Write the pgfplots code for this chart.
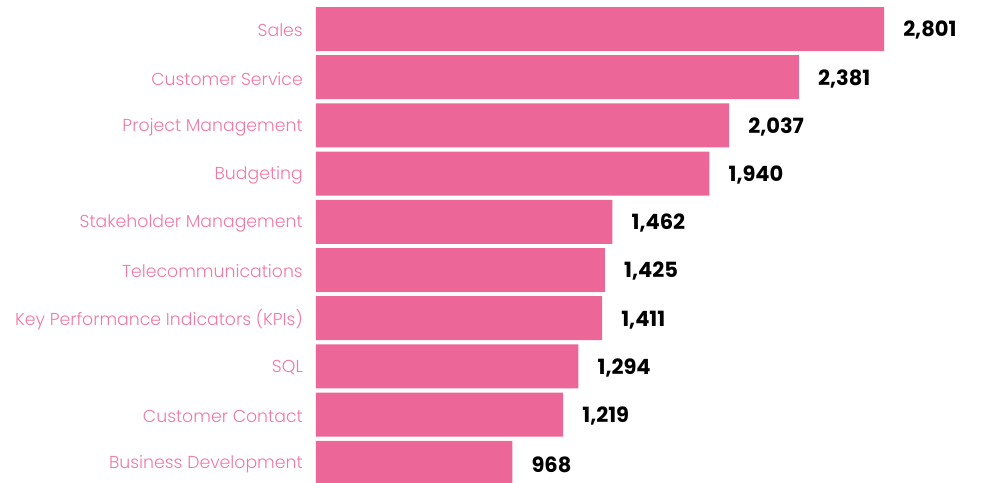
\documentclass[border=0pt]{standalone}
\usepackage{fontspec}
\setmainfont{Poppins}[UprightFont=* Light, BoldFont=* Bold]
\usepackage{pgfplots}
\pgfplotsset{compat=1.18}
\definecolor{barpink}{HTML}{EC6698}
\definecolor{labpink}{HTML}{F07AA6}
\begin{document}
\begin{tikzpicture}
\begin{axis}[
  scale only axis,
  width=666pt, height=482pt,
  xmin=0, xmax=3284,
  ymin=-0.398, ymax=9.602,
  xbar, bar width=44pt,
  axis line style={draw=none},
  xtick=\empty,
  ytick={0,...,9},
  yticklabels={Business Development,Customer Contact,SQL,Key Performance Indicators (KPIs),Telecommunications,Stakeholder Management,Budgeting,Project Management,Customer Service,Sales},
  major tick length=0pt,
  ytick style={draw=none},
  yticklabel style={font=\fontsize{17.3}{20}\selectfont, text=labpink, inner sep=0pt, xshift=-13pt, yshift=-1.5pt},
  nodes near coords,
  nodes near coords style={font=\fontsize{21}{24}\selectfont\bfseries, text=black, anchor=west, inner sep=0pt, xshift=19pt, yshift=-1.5pt},
  /pgf/number format/.cd, 1000 sep={,}, assume math mode=true,
]
\addplot[fill=barpink, draw=none] coordinates {
  (968,0) (1219,1) (1294,2) (1411,3) (1425,4) (1462,5) (1940,6) (2037,7) (2381,8) (2801,9)
};
\end{axis}
\pgfresetboundingbox
\useasboundingbox (-316pt,0) rectangle (666pt,482pt);
\end{tikzpicture}
\end{document}
